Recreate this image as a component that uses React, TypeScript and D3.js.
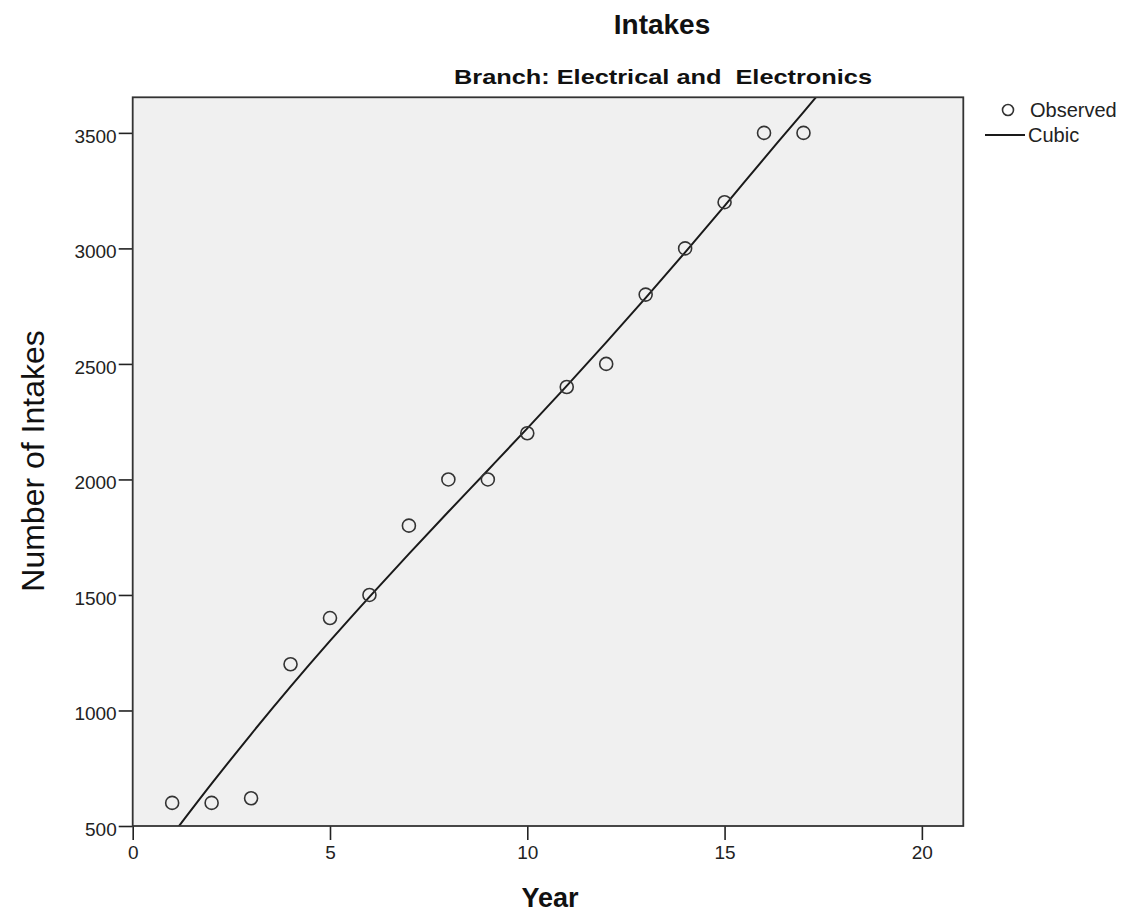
import * as d3 from "d3";
import { useRef, useEffect } from "react";

const years = [1, 2, 3, 4, 5, 6, 7, 8, 9, 10, 11, 12, 13, 14, 15, 16, 17];
const observed = [600, 600, 620, 1200, 1400, 1500, 1800, 2000, 2000, 2200, 2400, 2500, 2800, 3000, 3200, 3500, 3500];

// cubic fit line
const fitYears = [1, 2, 3, 4, 5, 6, 7, 8, 9, 10, 11, 12, 13, 14, 15, 16, 17, 17.6];
const fitValues = [461, 683, 897, 1103, 1301, 1492, 1678, 1860, 2040, 2221, 2405, 2593, 2786, 2983, 3184, 3389, 3590, 3712];

const xTicks = [0, 5, 10, 15, 20];
const yTicks = [500, 1000, 1500, 2000, 2500, 3000, 3500];

const FONT = "'Liberation Sans', Arial, sans-serif";

const App = () => {
  const svgRef = useRef<SVGSVGElement | null>(null);

  useEffect(() => {
    const left = 132.7, right = 963.3, top = 97.3, bottom = 826;
    const svg = d3.select(svgRef.current);
    svg.selectAll("*").remove();

    const x = d3.scaleLinear().domain([0, 21.05]).range([left, right]);
    const y = d3.scaleLinear().domain([500, 3654]).range([bottom, top]);

    svg.append("defs").append("clipPath").attr("id", "plotclip")
      .append("rect")
      .attr("x", left).attr("y", top)
      .attr("width", right - left).attr("height", bottom - top);

    svg.append("rect")
      .attr("x", left).attr("y", top)
      .attr("width", right - left).attr("height", bottom - top)
      .attr("fill", "#f0f0f0");

    // axes
    const xAxis = svg.append("g")
      .attr("transform", `translate(0,${bottom})`)
      .call(d3.axisBottom(x).tickValues(xTicks).tickSize(14).tickPadding(6).tickFormat(d3.format("d")));
    const yAxis = svg.append("g")
      .attr("transform", `translate(${left},0)`)
      .call(d3.axisLeft(y).tickValues(yTicks).tickSize(14).tickPadding(2).tickFormat(d3.format("d")));

    [xAxis, yAxis].forEach(g => {
      g.select(".domain").remove();
      g.selectAll("line").attr("stroke", "#222").attr("stroke-width", 1.6);
      g.selectAll("text")
        .attr("fill", "#222")
        .style("font-family", FONT)
        .style("font-size", "19px");
    });
    yAxis.selectAll("text").attr("dy", "0.5em");

    // fit line
    const line = d3.line<number>()
      .x((d, i) => x(fitYears[i]))
      .y(d => y(d))
      .curve(d3.curveCatmullRom);

    svg.append("path")
      .datum(fitValues)
      .attr("clip-path", "url(#plotclip)")
      .attr("fill", "none")
      .attr("stroke", "#1a1a1a")
      .attr("stroke-width", 2)
      .attr("d", line);

    svg.append("g")
      .selectAll("circle")
      .data(observed)
      .join("circle")
      .attr("cx", (d, i) => x(years[i]))
      .attr("cy", d => y(d))
      .attr("r", 6.5)
      .attr("fill", "none")
      .attr("stroke", "#333")
      .attr("stroke-width", 1.6);

    // frame
    svg.append("rect")
      .attr("x", left).attr("y", top)
      .attr("width", right - left).attr("height", bottom - top)
      .attr("fill", "none")
      .attr("stroke", "#333")
      .attr("stroke-width", 1.8);

    // titles
    svg.append("text")
      .attr("x", 662).attr("y", 34)
      .attr("text-anchor", "middle")
      .style("font-family", FONT).style("font-weight", "bold").style("font-size", "28px")
      .attr("fill", "#111")
      .text("Intakes");

    svg.append("text")
      .attr("x", 663).attr("y", 84)
      .attr("text-anchor", "middle")
      .attr("textLength", 418)
      .attr("lengthAdjust", "spacingAndGlyphs")
      .style("font-family", FONT).style("font-weight", "bold").style("font-size", "21px")
      .style("white-space", "pre")
      .attr("fill", "#111")
      .text("Branch: Electrical and  Electronics");

    svg.append("text")
      .attr("x", 550).attr("y", 907)
      .attr("text-anchor", "middle")
      .style("font-family", FONT).style("font-weight", "bold").style("font-size", "27px")
      .attr("fill", "#111")
      .text("Year");

    svg.append("text")
      .attr("transform", "translate(44,461) rotate(-90)")
      .attr("text-anchor", "middle")
      .style("font-family", FONT).style("font-size", "32px")
      .attr("fill", "#111")
      .text("Number of Intakes");

    // legend
    const lg = svg.append("g");
    lg.append("circle")
      .attr("cx", 1008).attr("cy", 110).attr("r", 5.5)
      .attr("fill", "none").attr("stroke", "#333").attr("stroke-width", 1.6);
    lg.append("line")
      .attr("x1", 985).attr("x2", 1025).attr("y1", 135).attr("y2", 135)
      .attr("stroke", "#1a1a1a").attr("stroke-width", 2);
    lg.append("text")
      .attr("x", 1030).attr("y", 117)
      .style("font-family", FONT).style("font-size", "20px")
      .attr("fill", "#222")
      .text("Observed");
    lg.append("text")
      .attr("x", 1028).attr("y", 142)
      .style("font-family", FONT).style("font-size", "20px")
      .attr("fill", "#222")
      .text("Cubic");
  }, []);

  return (
    <svg
      ref={svgRef}
      width={1125}
      height={913}
      style={{ position: "absolute", left: 0, top: 0, background: "#fff" }}
    />
  );
};

export default App;
